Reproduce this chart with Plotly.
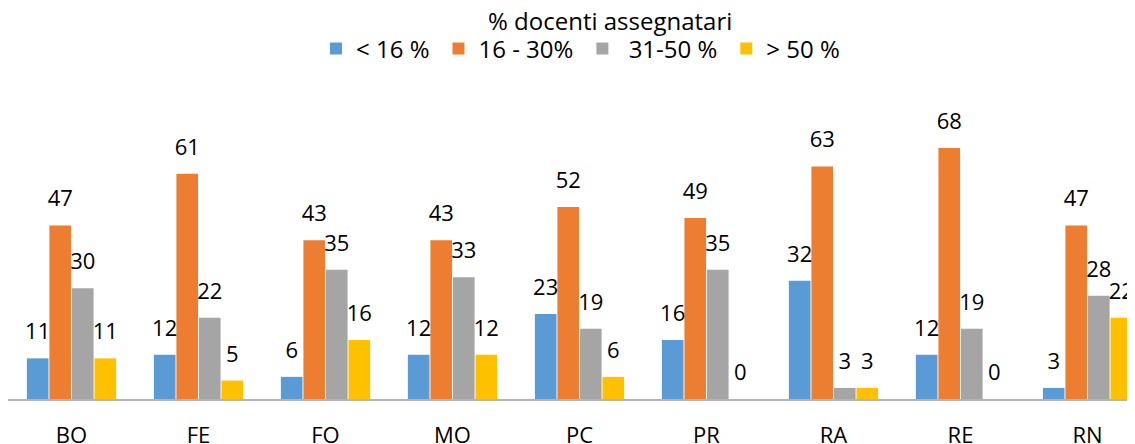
import plotly.graph_objects as go

# province e percentuali per fascia
province = ["BO", "FE", "FO", "MO", "PC", "PR", "RA", "RE", "RN"]
fascia_1 = [11, 12, 6, 12, 23, 16, 32, 12, 3]
fascia_2 = [47, 61, 43, 43, 52, 49, 63, 68, 47]
fascia_3 = [30, 22, 35, 33, 19, 35, 3, 19, 28]
fascia_4 = [11, 5, 16, 12, 6, 0, 3, 0, 22]
nomi = ["< 16 %\u2009", "16 - 30%\u2009", " 31-50 %\u2009", "> 50 %"]
colori = ["#5B9BD5", "#ED7D31", "#A5A5A5", "#FFC000"]

font = "'Open Sans', sans-serif"
serie = [fascia_1, fascia_2, fascia_3, fascia_4]

fig = go.Figure()
for i, (nome, valori, colore) in enumerate(zip(nomi, serie, colori)):
    fig.add_trace(go.Bar(
        x = province,
        y = valori,
        name = nome,
        offsetgroup = str(i),
        marker = dict(color = colore, line = dict(width = 0)),
        hoverinfo = "skip"
    ))
# etichette dei valori (scatter raggruppati per allinearsi alle barre)
for i, valori in enumerate(serie):
    fig.add_trace(go.Scatter(
        x = province,
        y = valori,
        offsetgroup = str(i),
        mode = "markers+text",
        marker = dict(size = 20, color = "rgba(0,0,0,0)"),
        text = [str(v) for v in valori],
        textposition = "top center",
        textfont = dict(size = 22, color = "#000000", family = font),
        cliponaxis = False,
        showlegend = False,
        hoverinfo = "skip"
    ))

# la pagina ha 8px di margine: figura 1127x436
fig.update_layout(
    width = 1127,
    height = 436,
    barmode = "group",
    bargap = 0.29,
    bargroupgap = 0.04,
    scattermode = "group",
    scattergap = 0.29,
    plot_bgcolor = "white",
    paper_bgcolor = "white",
    font = dict(family = font, size = 22, color = "#000000"),
    margin = dict(l = 0, r = 0, t = 82, b = 45, pad = 0),
    showlegend = True,
    legend = dict(
        orientation = "h",
        x = 0.508, xanchor = "center", xref = "container",
        y = 0.906, yanchor = "middle", yref = "container",
        font = dict(size = 24),
        traceorder = "normal"
    ),
    xaxis = dict(
        range = [-0.5, 8.374],
        automargin = False,
        showgrid = False,
        showline = True,
        linecolor = "#B4B4B4",
        linewidth = 1.5,
        ticks = "",
        ticklabelstandoff = 16,
        tickfont = dict(size = 22),
        fixedrange = True
    ),
    yaxis = dict(
        range = [0, 83.7],
        visible = False,
        automargin = False,
        showgrid = False,
        zeroline = False
    ),
    annotations = [dict(
        text = "% docenti assegnatari",
        x = 0.534, xref = "paper", xanchor = "center",
        y = 1.2265, yref = "paper", yanchor = "middle",
        showarrow = False,
        font = dict(size = 24)
    )]
)

fig.write_html("out.html")
